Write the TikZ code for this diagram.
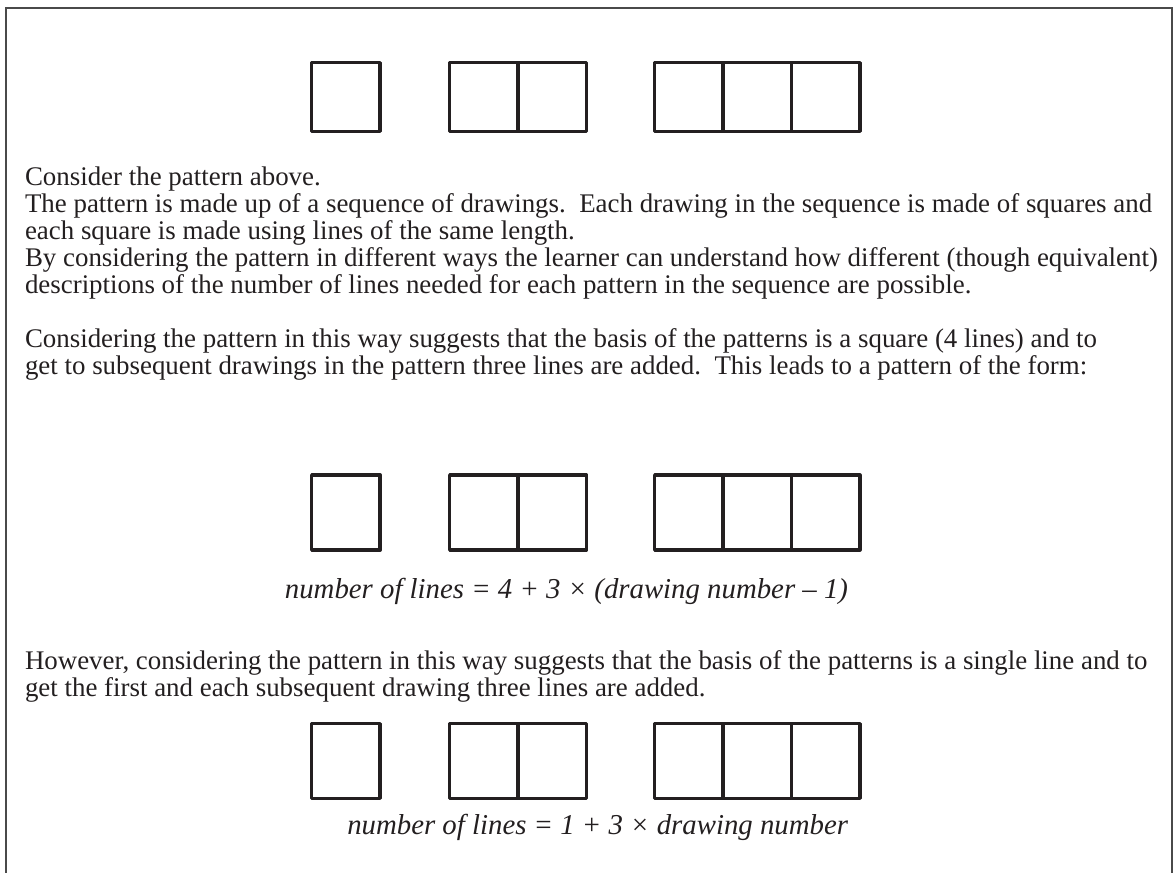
\documentclass[tikz,border=0pt]{standalone}
\usepackage{fontspec}
\setmainfont{Liberation Serif}
\definecolor{ink}{HTML}{231F20}
\definecolor{framec}{HTML}{4A4A4A}
\tikzset{
  body/.style={anchor=base west, inner sep=0pt, outer sep=0pt, text=ink, font=\fontsize{26.9}{27}\selectfont},
  capt/.style={anchor=base east, inner sep=0pt, outer sep=0pt, text=ink, font=\fontsize{28.8}{29}\selectfont\itshape},
  sq/.style={draw=ink, line width=3.3pt, line join=round},
  framel/.style={draw=framec, line width=1.3pt}
}
\newcommand{\cellrow}[4]{% x0, ytop, n, height
  \foreach \k in {1,...,#3} {
    \draw[sq] ({#1+(\k-1)*68.4},#2) rectangle ({#1+\k*68.4},{#2+#4});
  }
}
\begin{document}
\begin{tikzpicture}[x=1pt,y=-1pt]
\useasboundingbox (0,0) rectangle (1173,873);
\draw[framel] (6,873) -- (6,8) -- (1172,8) -- (1172,873);
% row 1
\cellrow{311.7}{62.7}{1}{68.6}
\cellrow{449.7}{62.7}{2}{68.6}
\cellrow{654.7}{62.7}{3}{68.6}
\node[body] (t1) at (25,185) {Consider the pattern above.};
\node[body] (t2) at (25,212) {The pattern is made up of a sequence of drawings.\ \ Each drawing in the sequence is made of squares and};
\node[body] (t3) at (25,239) {each square is made using lines of the same length.};
\node[body] (t4) at (25,266) {By considering the pattern in different ways the learner can understand how different (though equivalent)};
\node[body] (t5) at (25,293) {descriptions of the number of lines needed for each pattern in the sequence are possible.};
\node[body] (t6) at (25,347) {Considering the pattern in this way suggests that the basis of the patterns is a square (4 lines) and to};
\node[body] (t7) at (25,374) {get to subsequent drawings in the pattern three lines are added.\ \ This leads to a pattern of the form:};
% row 2
\cellrow{311.7}{475}{1}{75}
\cellrow{449.7}{475}{2}{75}
\cellrow{654.7}{475}{3}{75}
\node[capt] (c1) at (848,598) {number of lines = 4 + 3 × (drawing number – 1)};
\node[body] (t8) at (25,669) {However, considering the pattern in this way suggests that the basis of the patterns is a single line and to};
\node[body] (t9) at (25,696) {get the first and each subsequent drawing three lines are added.};
% row 3
\cellrow{311.7}{723.7}{1}{74.6}
\cellrow{449.7}{723.7}{2}{74.6}
\cellrow{654.7}{723.7}{3}{74.6}
\node[capt] (c2) at (848,834) {number of lines = 1 + 3 × drawing number};
\end{tikzpicture}
\end{document}
